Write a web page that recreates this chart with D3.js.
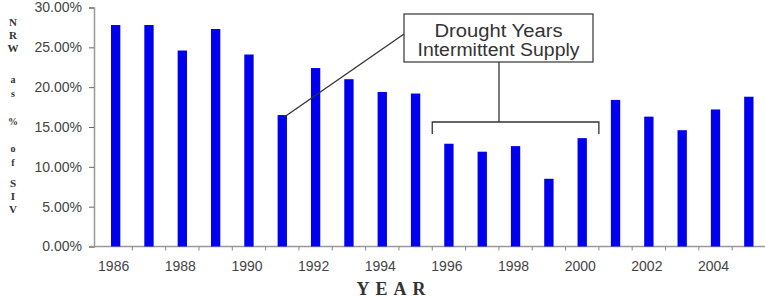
<!DOCTYPE html>
<html>
<head>
<meta charset="utf-8">
<script src="https://cdn.jsdelivr.net/npm/d3@7"></script>
<style>
  body { margin: 0; background: #fff; }
  svg { display: block; }
</style>
</head>
<body>
<svg id="chart" width="765" height="299"></svg>
<script>
// data
const years = d3.range(1986, 2006);
const nrw = [27.8, 27.8, 24.6, 27.3, 24.1, 16.5, 22.4, 21.0, 19.4, 19.2,
             12.9, 11.9, 12.6, 8.5, 13.6, 18.4, 16.3, 14.6, 17.2, 18.8];
const yTicks = [0, 5, 10, 15, 20, 25, 30];
const xLabelYears = [1986, 1988, 1990, 1992, 1994, 1996, 1998, 2000, 2002, 2004];
const noteLines = ["Drought Years", "Intermittent Supply"];
const droughtSpan = [1996, 2000];
const pointedYear = 1991;
const yTitle = ["N", "R", "W", "a", "s", "%", "o", "f", "S", "I", "V"];
const yTitleBase = [26, 39, 52, 83, 97, 125, 152, 166, 187, 200, 213];

const svg = d3.select("#chart");
const axisX = 94;

const x = d3.scaleBand()
  .domain(years)
  .range([99, 765.5])
  .paddingInner(0.72)
  .paddingOuter(0.36);

const y = d3.scaleLinear()
  .domain([0, 30])
  .range([246.5, 7.5]);

// y axis
const yAxis = svg.append("g")
  .attr("transform", `translate(${axisX},0)`)
  .call(d3.axisLeft(y).tickValues(yTicks).tickSize(5).tickPadding(7)
    .tickFormat(d => d.toFixed(2) + "%"));
yAxis.select(".domain").attr("stroke", "#999").attr("stroke-width", 1.5);
yAxis.selectAll(".tick line").attr("stroke", "#666");
yAxis.selectAll("text")
  .attr("fill", "#444")
  .style("font-family", "Liberation Sans, Arial, sans-serif")
  .style("font-size", "14px");

// x axis: tick marks on band edges, labels under bars
const xAxisG = svg.append("g").attr("transform", `translate(0,${y(0)})`);
xAxisG.append("line")
  .attr("x1", axisX - 4).attr("x2", 765)
  .attr("stroke", "#999").attr("stroke-width", 1.5);
const step = x.step();
const edges = years.map(d => x(d) + x.bandwidth() / 2 + step / 2);
xAxisG.selectAll(".xt").data(edges).join("line")
  .attr("class", "xt")
  .attr("x1", d => d).attr("x2", d => d)
  .attr("y1", 0).attr("y2", 4)
  .attr("stroke", "#888");
xAxisG.selectAll(".xl").data(xLabelYears).join("text")
  .attr("class", "xl")
  .attr("x", d => x(d) + x.bandwidth() / 2 - 2)
  .attr("y", 24)
  .attr("text-anchor", "middle")
  .attr("fill", "#444")
  .style("font-family", "Liberation Sans, Arial, sans-serif")
  .style("font-size", "14px")
  .text(d => d);

// bars
svg.append("g").selectAll("rect")
  .data(years.map((d, i) => ({ year: d, v: nrw[i] })))
  .join("rect")
  .attr("x", d => x(d.year))
  .attr("width", x.bandwidth())
  .attr("y", d => y(d.v))
  .attr("height", d => y(0) - y(d.v))
  .attr("fill", "#0000ee");

// annotation box
const box = { x: 404, y: 14, w: 189, h: 48 };
svg.append("rect")
  .attr("x", box.x).attr("y", box.y)
  .attr("width", box.w).attr("height", box.h)
  .attr("fill", "#fff").attr("stroke", "#333").attr("stroke-width", 1.2);
svg.append("text")
  .attr("x", box.x + box.w / 2)
  .attr("text-anchor", "middle")
  .attr("fill", "#333")
  .style("font-family", "Liberation Sans, Arial, sans-serif")
  .style("font-size", "18px")
  .selectAll("tspan").data(noteLines).join("tspan")
  .attr("x", box.x + box.w / 2)
  .attr("y", (d, i) => box.y + 23 + i * 19)
  .attr("textLength", (d, i) => i === 0 ? 128 : 162)
  .attr("lengthAdjust", "spacingAndGlyphs")
  .text(d => d);

// leader line to the 1991 bar
const pIdx = years.indexOf(pointedYear);
svg.append("line")
  .attr("x1", x(pointedYear) + x.bandwidth() / 2 + 2)
  .attr("y1", y(nrw[pIdx]) + 2)
  .attr("x2", box.x).attr("y2", box.y + 20)
  .attr("stroke", "#333").attr("stroke-width", 1.3);

// bracket over drought years
const bx1 = x(droughtSpan[0]) - (step - x.bandwidth()) / 2;
const bx2 = x(droughtSpan[1]) + x.bandwidth() + (step - x.bandwidth()) / 2;
const by = 122;
svg.append("path")
  .attr("d", `M${bx1},${by + 12}V${by}H${bx2}V${by + 12}`)
  .attr("fill", "none").attr("stroke", "#333").attr("stroke-width", 1.3);
svg.append("line")
  .attr("x1", box.x + 95).attr("x2", box.x + 95)
  .attr("y1", box.y + box.h).attr("y2", by)
  .attr("stroke", "#333").attr("stroke-width", 1.3);

// y title: letters stacked in one text element
svg.append("text")
  .attr("text-anchor", "middle")
  .attr("fill", "#333")
  .style("font-family", "Liberation Serif, Times New Roman, serif")
  .style("font-weight", "bold")
  .selectAll("tspan").data(yTitle).join("tspan")
  .attr("x", 13)
  .attr("y", (d, i) => yTitleBase[i])
  .style("font-size", d => /[a-z%]/.test(d) ? "10px" : "11px")
  .text(d => d);

svg.append("text")
  .attr("x", 394).attr("y", 295)
  .attr("text-anchor", "middle")
  .attr("fill", "#333")
  .style("font-family", "Liberation Serif, Times New Roman, serif")
  .style("font-weight", "bold")
  .style("font-size", "18px")
  .style("letter-spacing", "6px")
  .text("YEAR");
</script>
</body>
</html>
